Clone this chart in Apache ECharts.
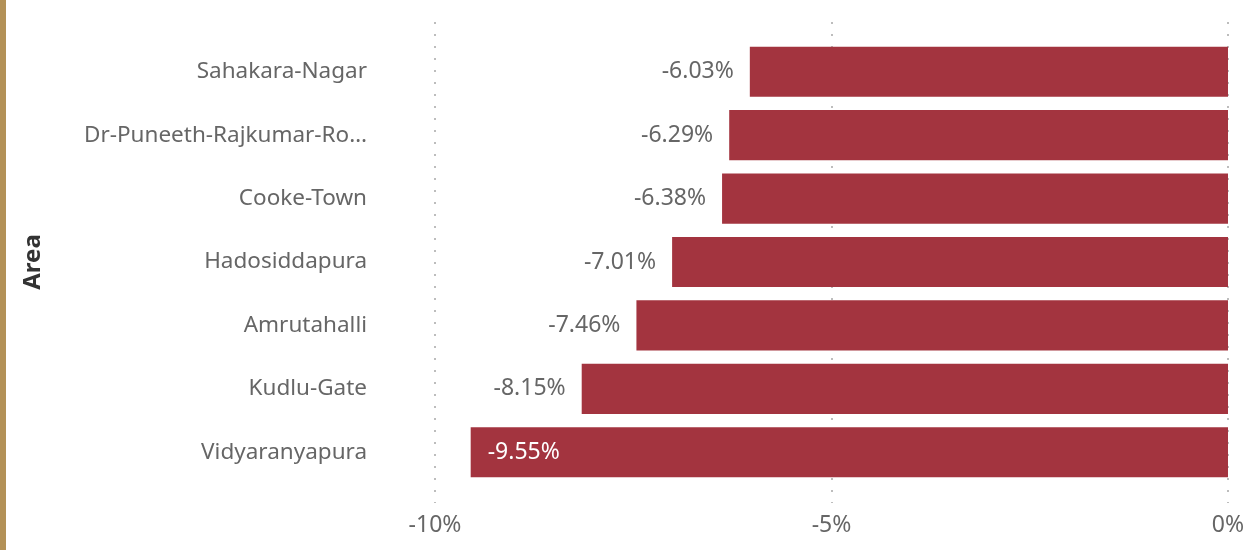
<!DOCTYPE html>
<html>
<head>
<meta charset="utf-8">
<script src="https://cdn.jsdelivr.net/npm/echarts@6/dist/echarts.min.js"></script>
<style>
  html, body { margin: 0; padding: 0; background: #fff; }
  #main { width: 1249px; height: 550px; border-left: 6px solid #b39157; box-sizing: border-box; }
</style>
</head>
<body>
<div id="main"></div>
<script>
var areas = ['Sahakara-Nagar', 'Dr-Puneeth-Rajkumar-Ro…', 'Cooke-Town', 'Hadosiddapura', 'Amrutahalli', 'Kudlu-Gate', 'Vidyaranyapura'];
var changes = [-6.03, -6.29, -6.38, -7.01, -7.46, -8.15, -9.55];
var xTicks = [-10, -5, 0];

var myChart = echarts.init(document.getElementById('main'));
var font = 'Noto Sans';

// bars whose label will not fit outside go inside, white
var barData = changes.map(function (v) {
    if (v < -9) {
        return { value: v, label: { position: 'insideLeft', color: '#fff', distance: 17 } };
    }
    return v;
});

var option = {
    animation: false,
    grid: [
        { left: 429, right: 21, top: 22, bottom: 47 },
        { left: 429, right: 21, top: 40, bottom: 66 }
    ],
    xAxis: [{
        gridIndex: 0,
        type: 'value',
        min: -10,
        max: 0,
        interval: 5,
        axisLine: { show: false },
        axisTick: { show: false },
        axisLabel: {
            color: '#666',
            fontFamily: font,
            fontSize: 23,
            margin: 11,
            formatter: function (v) { return xTicks.indexOf(v) >= 0 ? v + '%' : ''; }
        },
        splitLine: { show: true, lineStyle: { color: '#bdbdbd', type: [2, 10], width: 2 } }
    }, {
        gridIndex: 1,
        type: 'value',
        min: -10,
        max: 0,
        show: false
    }],
    yAxis: [{
        gridIndex: 0,
        type: 'category',
        data: areas,
        show: false
    }, {
        gridIndex: 1,
        type: 'category',
        data: areas,
        inverse: true,
        axisLine: { show: false },
        axisTick: { show: false },
        axisLabel: { color: '#666', fontFamily: font, fontSize: 22.5, margin: 68 },
        name: 'Area',
        nameLocation: 'middle',
        nameRotate: 90,
        nameGap: 390,
        nameTextStyle: { color: '#333', fontFamily: font, fontSize: 24, fontWeight: 'bold' }
    }],
    series: [{
        type: 'bar',
        xAxisIndex: 1,
        yAxisIndex: 1,
        data: barData,
        barCategoryGap: '21%',
        itemStyle: { color: '#a3343f' },
        label: {
            show: true,
            position: 'left',
            distance: 16,
            color: '#666',
            fontFamily: font,
            fontSize: 23,
            formatter: function (p) { return p.value.toFixed(2) + '%'; }
        }
    }]
};

myChart.setOption(option);
</script>
</body>
</html>
